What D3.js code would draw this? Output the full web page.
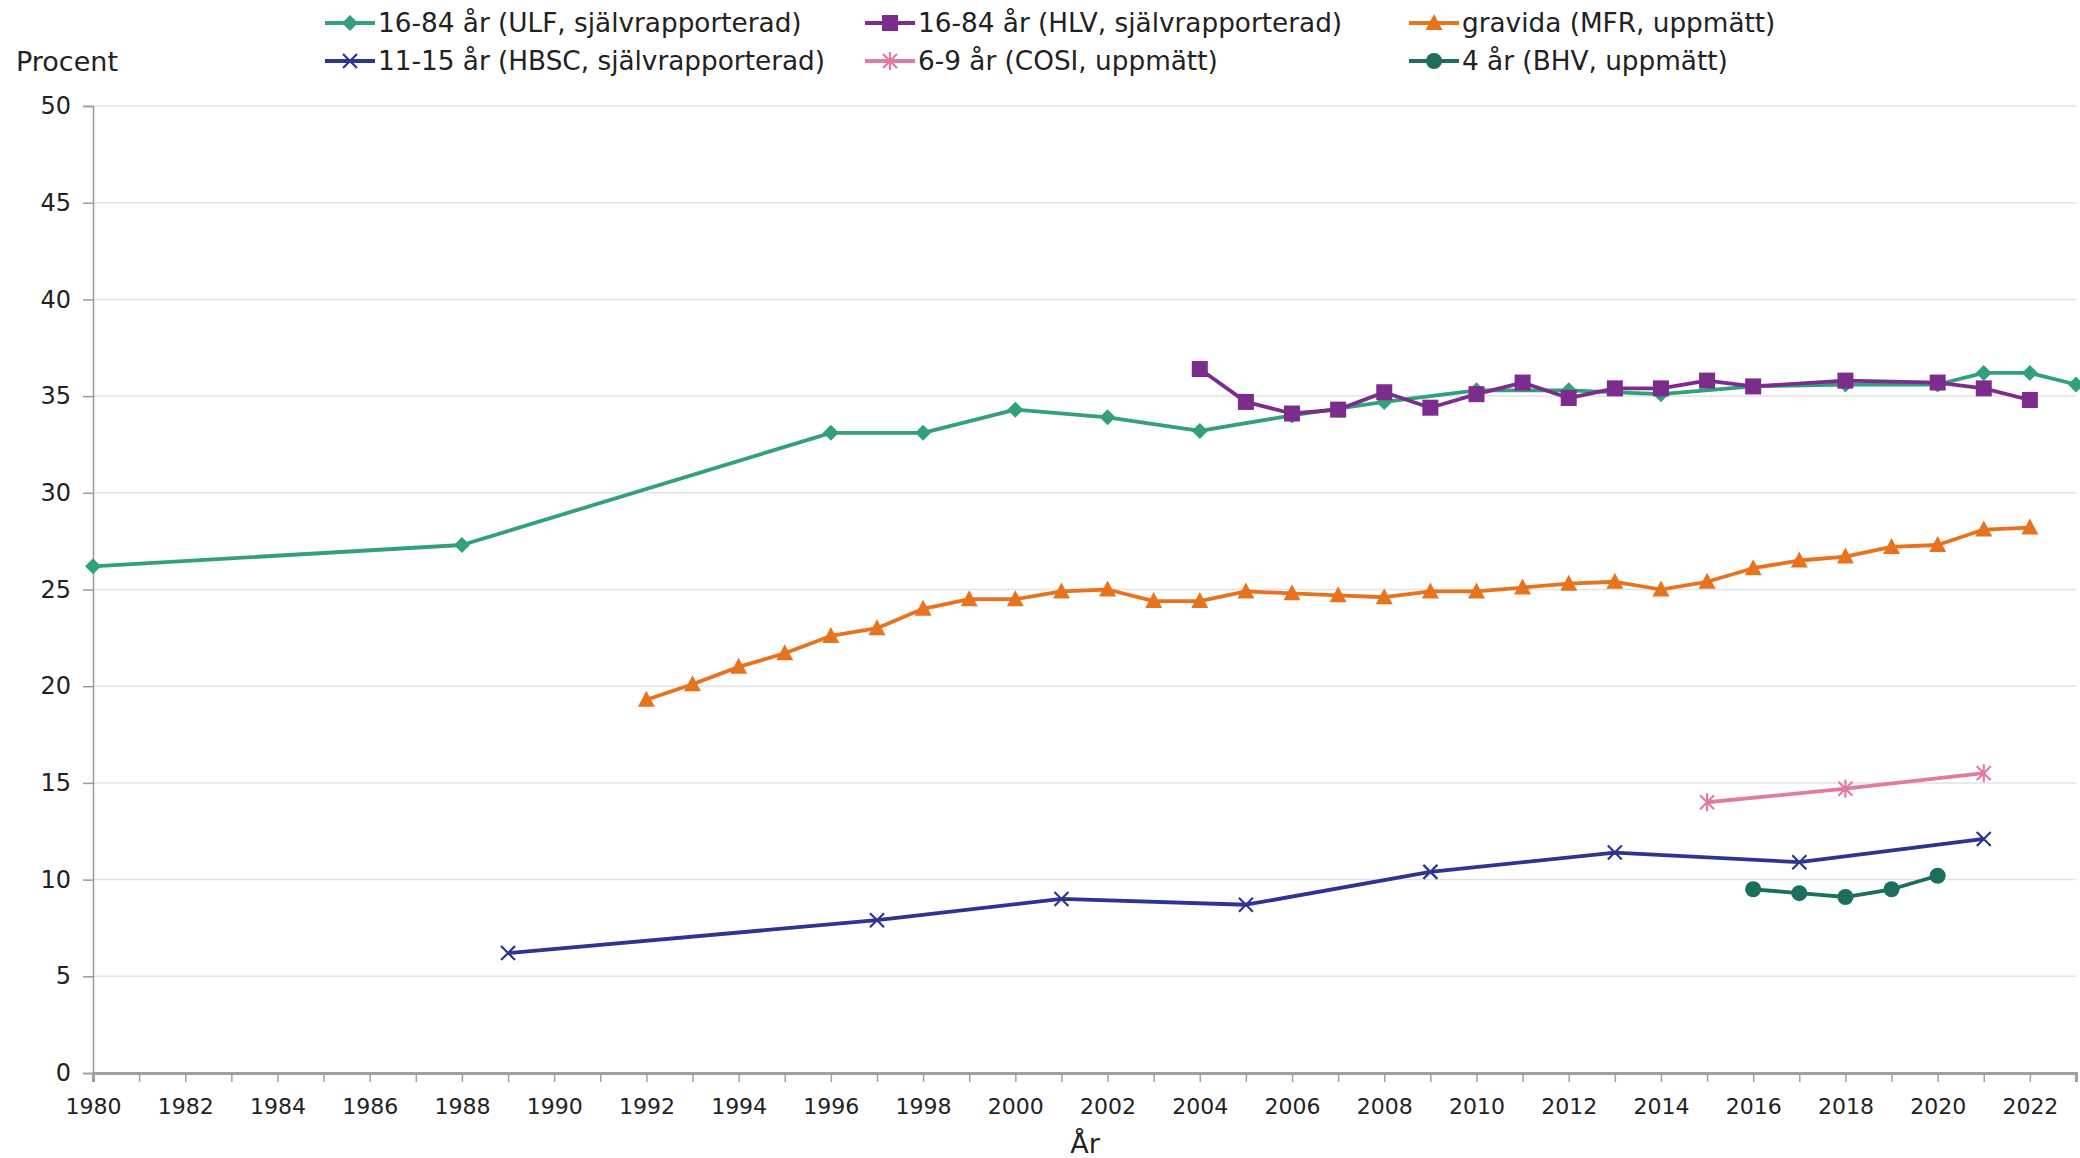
<!DOCTYPE html>
<html>
<head>
<meta charset="utf-8">
<script src="https://cdn.jsdelivr.net/npm/d3@7/dist/d3.min.js"></script>
<style>
  html, body { margin: 0; padding: 0; background: #ffffff; }
  svg { display: block; font-family: "DejaVu Sans", Verdana, sans-serif; }
</style>
</head>
<body>
<svg id="chart" width="2080" height="1158"></svg>
<script>
// ---- Data ----
const yearsULF  = [1980, 1988, 1996, 1998, 2000, 2002, 2004, 2006, 2008, 2010, 2012, 2014, 2016, 2018, 2020, 2021, 2022, 2023];
const valuesULF = [26.2, 27.3, 33.1, 33.1, 34.3, 33.9, 33.2, 34.0, 34.7, 35.3, 35.3, 35.1, 35.5, 35.6, 35.6, 36.2, 36.2, 35.6];

const yearsHLV  = [2004, 2005, 2006, 2007, 2008, 2009, 2010, 2011, 2012, 2013, 2014, 2015, 2016, 2018, 2020, 2021, 2022];
const valuesHLV = [36.4, 34.7, 34.1, 34.3, 35.2, 34.4, 35.1, 35.7, 34.9, 35.4, 35.4, 35.8, 35.5, 35.8, 35.7, 35.4, 34.8];

const yearsMFR  = [1992, 1993, 1994, 1995, 1996, 1997, 1998, 1999, 2000, 2001, 2002, 2003, 2004, 2005, 2006, 2007, 2008, 2009, 2010, 2011, 2012, 2013, 2014, 2015, 2016, 2017, 2018, 2019, 2020, 2021, 2022];
const valuesMFR = [19.3, 20.1, 21.0, 21.7, 22.6, 23.0, 24.0, 24.5, 24.5, 24.9, 25.0, 24.4, 24.4, 24.9, 24.8, 24.7, 24.6, 24.9, 24.9, 25.1, 25.3, 25.4, 25.0, 25.4, 26.1, 26.5, 26.7, 27.2, 27.3, 28.1, 28.2];

const yearsHBSC  = [1989, 1997, 2001, 2005, 2009, 2013, 2017, 2021];
const valuesHBSC = [6.2, 7.9, 9.0, 8.7, 10.4, 11.4, 10.9, 12.1];

const yearsCOSI  = [2015, 2018, 2021];
const valuesCOSI = [14.0, 14.7, 15.5];

const yearsBHV  = [2016, 2017, 2018, 2019, 2020];
const valuesBHV = [9.5, 9.3, 9.1, 9.5, 10.2];

const yTicks = [0, 5, 10, 15, 20, 25, 30, 35, 40, 45, 50];
const xLabelYears = d3.range(1980, 2023, 2);
const xTickYears = d3.range(1980, 2024, 1);

const seriesNames = [
  "16-84 år (ULF, självrapporterad)",
  "16-84 år (HLV, självrapporterad)",
  "gravida (MFR, uppmätt)",
  "11-15 år (HBSC, självrapporterad)",
  "6-9 år (COSI, uppmätt)",
  "4 år (BHV, uppmätt)"
];

// ---- Styles ----
const series = [
  { name: seriesNames[0], years: yearsULF,  values: valuesULF,  color: "#33a07c", marker: "diamond" },
  { name: seriesNames[1], years: yearsHLV,  values: valuesHLV,  color: "#7b2c8c", marker: "square" },
  { name: seriesNames[2], years: yearsMFR,  values: valuesMFR,  color: "#e8731e", marker: "triangle" },
  { name: seriesNames[3], years: yearsHBSC, values: valuesHBSC, color: "#2c3592", marker: "x" },
  { name: seriesNames[4], years: yearsCOSI, values: valuesCOSI, color: "#e27aa3", marker: "star" },
  { name: seriesNames[5], years: yearsBHV,  values: valuesBHV,  color: "#1c6e5d", marker: "circle" }
];

const svg = d3.select("#chart");
const margin = { left: 93, right: 4, top: 106, bottom: 85 };
const W = 2080, H = 1158;

const x = d3.scaleLinear().domain([1980, 2023]).range([margin.left, W - margin.right]);
const y = d3.scaleLinear().domain([0, 50]).range([H - margin.bottom, margin.top]);

// gridlines
svg.append("g")
  .selectAll("line")
  .data(yTicks.filter(d => d > 0))
  .join("line")
  .attr("x1", x(1980)).attr("x2", x(2023))
  .attr("y1", d => y(d)).attr("y2", d => y(d))
  .attr("stroke", "#e3e3e3").attr("stroke-width", 1.5);

// y axis
const yAxis = svg.append("g")
  .attr("transform", `translate(${x(1980)},0)`)
  .call(d3.axisLeft(y).tickValues(yTicks).tickSize(10).tickPadding(12));
yAxis.select(".domain").attr("stroke", "#9a9a9a").attr("stroke-width", 1.5);
yAxis.selectAll(".tick line").attr("stroke", "#9a9a9a").attr("stroke-width", 1.5);
yAxis.selectAll(".tick text").attr("font-size", 24).attr("fill", "#222")
  .attr("font-family", "'DejaVu Sans', Verdana, sans-serif");

// x axis
const xAxis = svg.append("g")
  .attr("transform", `translate(0,${y(0)})`)
  .call(d3.axisBottom(x).tickValues(xTickYears).tickSize(9).tickFormat(""));
xAxis.select(".domain").attr("stroke", "#a0a0a0").attr("stroke-width", 3);
xAxis.selectAll(".tick line").attr("stroke", "#a0a0a0").attr("stroke-width", 1.5);

const xLab = svg.append("g")
  .attr("transform", `translate(0,${y(0)})`)
  .call(d3.axisBottom(x).tickValues(xLabelYears).tickSize(0).tickPadding(25).tickFormat(d3.format("d")));
xLab.select(".domain").remove();
xLab.selectAll(".tick text").attr("font-size", 22).attr("fill", "#222")
  .attr("font-family", "'DejaVu Sans', Verdana, sans-serif");

// marker function
function drawMarker(g, type, cx, cy, color) {
  if (type === "diamond") {
    g.append("path").attr("d", `M${cx},${cy-8}L${cx+8},${cy}L${cx},${cy+8}L${cx-8},${cy}Z`).attr("fill", color);
  } else if (type === "square") {
    g.append("rect").attr("x", cx-8).attr("y", cy-8).attr("width", 16).attr("height", 16).attr("fill", color);
  } else if (type === "triangle") {
    g.append("path").attr("d", `M${cx},${cy-9}L${cx+8.5},${cy+7}L${cx-8.5},${cy+7}Z`).attr("fill", color);
  } else if (type === "x") {
    g.append("path").attr("d", `M${cx-7},${cy-7}L${cx+7},${cy+7}M${cx-7},${cy+7}L${cx+7},${cy-7}`)
      .attr("stroke", color).attr("stroke-width", 2.2).attr("fill", "none");
  } else if (type === "star") {
    g.append("path").attr("d", `M${cx-7},${cy-7}L${cx+7},${cy+7}M${cx-7},${cy+7}L${cx+7},${cy-7}M${cx},${cy-9}L${cx},${cy+9}`)
      .attr("stroke", color).attr("stroke-width", 2.2).attr("fill", "none");
  } else if (type === "circle") {
    g.append("circle").attr("cx", cx).attr("cy", cy).attr("r", 8).attr("fill", color);
  }
}

const line = d3.line().x(d => x(d[0])).y(d => y(d[1]));

series.forEach(s => {
  const pts = s.years.map((yr, i) => [yr, s.values[i]]);
  const g = svg.append("g");
  g.append("path").datum(pts).attr("d", line)
    .attr("fill", "none").attr("stroke", s.color).attr("stroke-width", 3.8)
    .attr("stroke-linejoin", "round");
  pts.forEach(p => drawMarker(g, s.marker, x(p[0]), y(p[1]), s.color));
});

// legend
const legendPos = [
  { lx: 325, ty: 23 }, { lx: 865, ty: 23 }, { lx: 1409, ty: 23 },
  { lx: 325, ty: 61 }, { lx: 865, ty: 61 }, { lx: 1409, ty: 61 }
];
series.forEach((s, i) => {
  const p = legendPos[i];
  const g = svg.append("g");
  g.append("line").attr("x1", p.lx).attr("x2", p.lx + 50).attr("y1", p.ty).attr("y2", p.ty)
    .attr("stroke", s.color).attr("stroke-width", 3.8);
  drawMarker(g, s.marker, p.lx + 25, p.ty, s.color);
  g.append("text").attr("x", p.lx + 53).attr("y", p.ty).attr("dy", "0.36em")
    .attr("font-size", 26.3).attr("fill", "#222").text(s.name);
});

// axis titles
svg.append("text").attr("x", 16).attr("y", 61).attr("dy", "0.36em")
  .attr("font-size", 27).attr("fill", "#222").text("Procent");
svg.append("text").attr("x", 1085).attr("y", 1143).attr("dy", "0.36em")
  .attr("text-anchor", "middle").attr("font-size", 27).attr("fill", "#222").text("År");
</script>
</body>
</html>
